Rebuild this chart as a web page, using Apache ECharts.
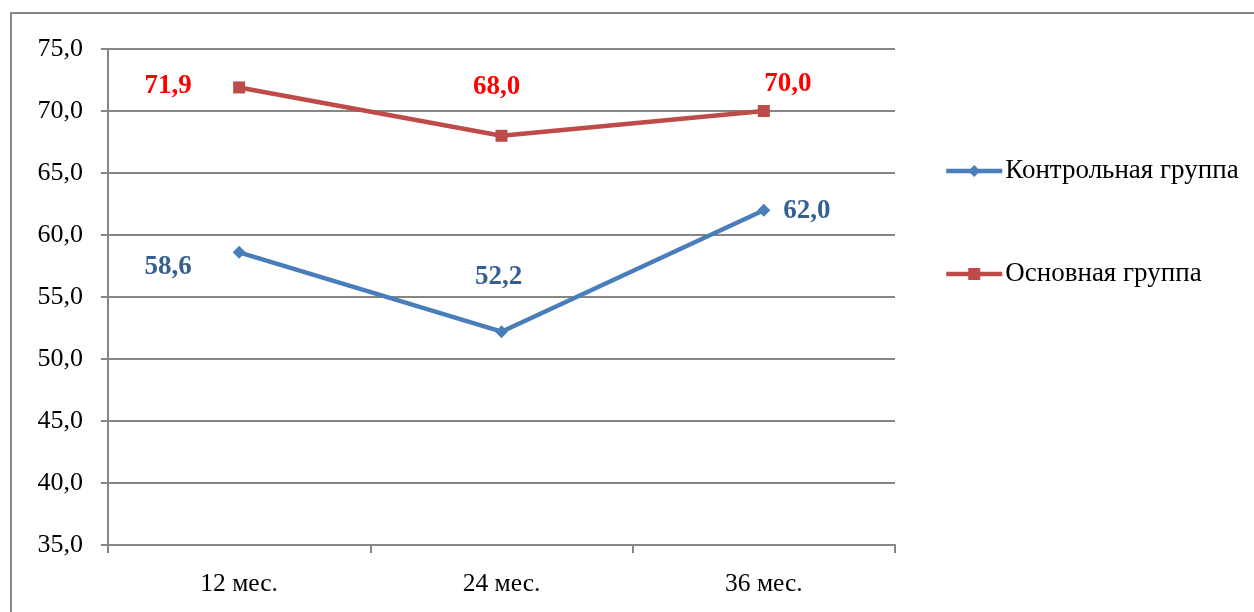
<!DOCTYPE html>
<html>
<head>
<meta charset="utf-8">
<script src="https://cdn.jsdelivr.net/npm/echarts@6/dist/echarts.min.js"></script>
<style>
  html, body { margin: 0; padding: 0; background: #ffffff; }
  #chart { width: 1254px; height: 612px; }
</style>
</head>
<body>
<div id="chart"></div>
<script>
// Periods on the horizontal axis
const categories = ['12 мес.', '24 мес.', '36 мес.'];
// Series names
const seriesNames = ['Контрольная группа', 'Основная группа'];
// Values per group
const controlValues = [58.6, 52.2, 62.0];
const mainValues = [71.9, 68.0, 70.0];

// Label placement (pixel offsets from each point)
const controlLabelOffsets = [[-71, 15], [-3, -55], [43, 1]];
const mainLabelOffsets = [[-71, -1], [-5, -49], [24, -27]];

const FONT = '"Liberation Serif", "Times New Roman", serif';
const GRID_COLOR = '#868686';

function fmt(v) {
  return v.toFixed(1).replace('.', ',');
}

function buildData(values, offsets) {
  return values.map((v, i) => ({
    value: v,
    label: { offset: offsets[i] }
  }));
}

const chart = echarts.init(document.getElementById('chart'), null, { renderer: 'canvas' });

chart.setOption({
  animation: false,
  backgroundColor: '#ffffff',
  graphic: [{
    type: 'rect',
    shape: { x: 11, y: 13, width: 1400, height: 800 },
    style: { fill: 'none', stroke: GRID_COLOR, lineWidth: 2 },
    silent: true
  }],
  grid: { left: 108, top: 49, right: 359, bottom: 67, containLabel: false },
  legend: {
    orient: 'vertical',
    left: 944,
    top: 157,
    padding: 0,
    itemWidth: 56,
    itemHeight: 15,
    itemGap: 75,
    data: seriesNames,
    lineStyle: { width: 4.5 },
    textStyle: { fontFamily: FONT, fontSize: 27, color: '#000000', lineHeight: 28, padding: [0, 0, 0, -2] }
  },
  xAxis: {
    type: 'category',
    data: categories,
    boundaryGap: true,
    axisLine: { lineStyle: { color: GRID_COLOR, width: 2 } },
    axisTick: { show: true, length: 8, lineStyle: { color: GRID_COLOR, width: 2 } },
    axisLabel: { fontFamily: FONT, fontSize: 25.5, color: '#000000', margin: 26 },
    splitLine: { show: false }
  },
  yAxis: {
    type: 'value',
    min: 35,
    max: 75,
    interval: 5,
    axisLine: { show: true, lineStyle: { color: GRID_COLOR, width: 2 } },
    axisTick: { show: true, length: 7, lineStyle: { color: GRID_COLOR, width: 2 } },
    axisLabel: {
      fontFamily: FONT, fontSize: 26, color: '#000000', margin: 25,
      formatter: v => fmt(v)
    },
    splitLine: { show: true, lineStyle: { color: GRID_COLOR, width: 2 } }
  },
  series: [
    {
      name: seriesNames[0],
      type: 'line',
      data: buildData(controlValues, controlLabelOffsets),
      symbol: 'diamond',
      symbolSize: 13,
      color: '#4A7EBB',
      lineStyle: { color: '#4A7EBB', width: 4.5 },
      itemStyle: { color: '#4A7EBB' },
      label: {
        show: true,
        position: 'inside',
        fontFamily: FONT, fontSize: 27, fontWeight: 'bold', color: '#376092',
        formatter: p => fmt(p.value)
      },
      z: 3
    },
    {
      name: seriesNames[1],
      type: 'line',
      data: buildData(mainValues, mainLabelOffsets),
      symbol: 'rect',
      symbolSize: 12,
      color: '#BE4B48',
      lineStyle: { color: '#BE4B48', width: 4.5 },
      itemStyle: { color: '#BE4B48' },
      label: {
        show: true,
        position: 'inside',
        fontFamily: FONT, fontSize: 27, fontWeight: 'bold', color: '#FF0000',
        formatter: p => fmt(p.value)
      },
      z: 3
    }
  ]
});
</script>
</body>
</html>
